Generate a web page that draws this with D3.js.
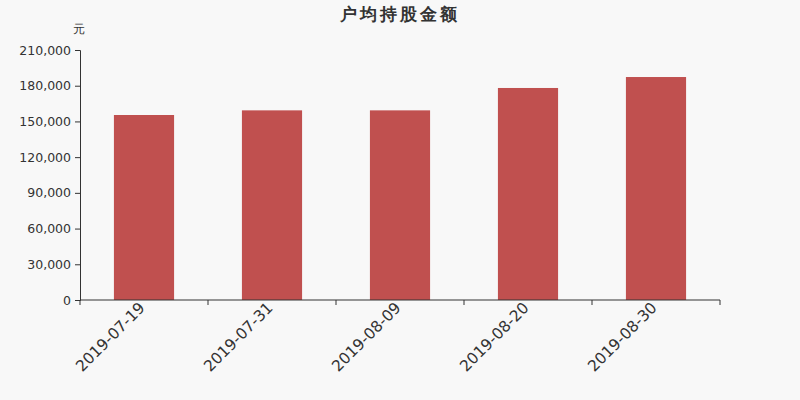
<!DOCTYPE html>
<html>
<head>
<meta charset="utf-8">
<script src="https://cdn.jsdelivr.net/npm/d3@7"></script>
<style>
	body { margin: 0; background: #f8f8f8; }
	svg, svg text { font-family: "DejaVu Sans", sans-serif; }
	.axis path, .axis line { stroke: #333; }
	.axis text { fill: #333; }
</style>
</head>
<body>
<div id="chart"></div>
<script>
var dates = ["2019-07-19", "2019-07-31", "2019-08-09", "2019-08-20", "2019-08-30"];
var avgHolding = [155400, 159300, 159300, 178100, 187300];
var yTicks = [0, 30000, 60000, 90000, 120000, 150000, 180000, 210000];

var width = 800, height = 400;
var margin = {top: 50, right: 80, bottom: 100, left: 80};
var w = width - margin.left - margin.right;
var h = height - margin.top - margin.bottom;

var svg = d3.select("#chart").append("svg")
	.attr("width", width)
	.attr("height", height);

// title
svg.append("text")
	.attr("x", width / 2)
	.attr("y", 20)
	.attr("text-anchor", "middle")
	.attr("font-size", 17)
	.attr("font-weight", "bold")
	.attr("letter-spacing", 3)
	.attr("fill", "#333")
	.text("户均持股金额");

// unit
svg.append("text")
	.attr("x", 79)
	.attr("y", 33)
	.attr("text-anchor", "middle")
	.attr("font-size", 12)
	.attr("fill", "#333")
	.text("元");

var g = svg.append("g")
	.attr("transform", "translate(" + margin.left + "," + margin.top + ")");

var x = d3.scaleBand().domain(dates).range([0, w]).paddingInner(0.53).paddingOuter(0.265);
var xAxisScale = d3.scaleBand().domain(dates).range([0, w]);
var y = d3.scaleLinear().domain([0, 210000]).range([h, 0]);

// bars
g.selectAll(".bar")
	.data(avgHolding)
	.enter().append("rect")
	.attr("class", "bar")
	.attr("x", function(d, i) { return x(dates[i]); })
	.attr("width", x.bandwidth())
	.attr("y", function(d) { return y(d); })
	.attr("height", function(d) { return h - y(d); })
	.attr("fill", "#c0504f");

// y axis
var yAxis = g.append("g")
	.attr("class", "axis")
	.call(d3.axisLeft(y).tickValues(yTicks).tickSize(5).tickPadding(4)
		.tickFormat(d3.format(",")));
yAxis.attr("font-family", null).attr("font-size", null);
yAxis.selectAll("text")
	.style("font-size", "12.5px")
	.style("font-family", "'DejaVu Sans'");

// x axis, ticks at band edges
var xAxis = g.append("g")
	.attr("class", "axis")
	.attr("transform", "translate(0," + h + ")");
xAxis.append("line")
	.attr("x1", 0).attr("x2", w)
	.attr("stroke", "#333");
xAxis.selectAll(".edge")
	.data(dates.concat(["end"]))
	.enter().append("line")
	.attr("class", "edge")
	.attr("x1", function(d, i) { return i * xAxisScale.step(); })
	.attr("x2", function(d, i) { return i * xAxisScale.step(); })
	.attr("y1", 0).attr("y2", 5)
	.attr("stroke", "#333");
xAxis.selectAll(".lbl")
	.data(dates)
	.enter().append("text")
	.attr("class", "lbl")
	.attr("text-anchor", "end")
	.attr("font-size", 15.5)
	.attr("fill", "#333")
	.attr("transform", function(d) {
		return "translate(" + (xAxisScale(d) + xAxisScale.bandwidth() / 2 - 2) + ",5) rotate(-45)";
	})
	.attr("dy", "0.35em")
	.text(function(d) { return d; });
</script>
</body>
</html>
